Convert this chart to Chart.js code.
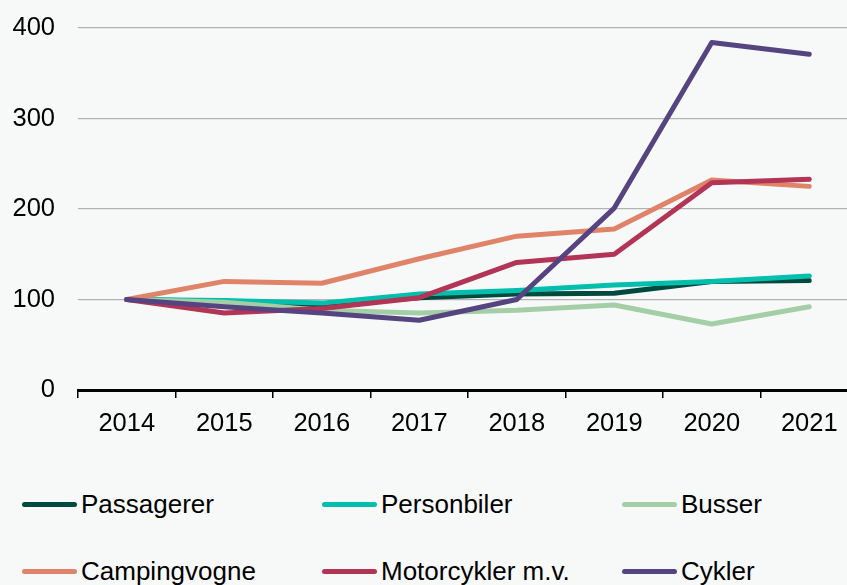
<!DOCTYPE html>
<html>
<head>
<meta charset="utf-8">
<script src="https://cdn.jsdelivr.net/npm/chart.js@4"></script>
<style>
  html, body { margin: 0; padding: 0; background: #f7f9f9; overflow: hidden; width: 847px; height: 585px; }
  #wrap { position: absolute; left: 0; top: 0; width: 858px; height: 460px; }
  #legend { position: absolute; left: 0; top: 470px; width: 847px; height: 115px; font-family: "Liberation Sans", Arial, sans-serif; font-size: 26px; color: #000; }
  .item { position: absolute; display: flex; align-items: center; white-space: nowrap; }
  .swatch { width: 55px; height: 5px; border-radius: 3px; margin-right: 4px; }
</style>
</head>
<body>
<div id="wrap"><canvas id="c" width="858" height="460"></canvas></div>
<div id="legend"></div>
<script>
const years = ['2014', '2015', '2016', '2017', '2018', '2019', '2020', '2021'];
const seriesNames = ['Passagerer', 'Personbiler', 'Busser', 'Campingvogne', 'Motorcykler m.v.', 'Cykler'];
const passagerer   = [100, 98, 94, 102, 106, 107, 120, 121];
const personbiler  = [100, 99, 96, 106, 110, 116, 120, 126];
const busser       = [100, 97, 88, 85, 88, 94, 73, 92];
const campingvogne = [100, 120, 118, 145, 170, 178, 232, 225];
const motorcykler  = [100, 85, 90, 102, 141, 150, 229, 233];
const cykler       = [100, 92, 85, 77, 100, 201, 384, 371];
const yTicks = [0, 100, 200, 300, 400];

const colors = ['#004a40', '#00bfad', '#a4cfa6', '#df8469', '#b23556', '#554480'];
const values = [passagerer, personbiler, busser, campingvogne, motorcykler, cykler];

const datasets = seriesNames.map((name, i) => ({
  label: name,
  data: values[i],
  borderColor: colors[i],
  backgroundColor: colors[i],
  borderWidth: 5,
  pointRadius: 0,
  tension: 0,
  borderCapStyle: 'round',
  borderJoinStyle: 'round',
  fill: false,
  order: seriesNames.length - 1 - i
}));

const FONT = { family: '"Liberation Sans", Arial, sans-serif', size: 25.5 };

new Chart(document.getElementById('c'), {
  type: 'line',
  data: { labels: years, datasets },
  options: {
    responsive: false,
    animation: false,
    layout: { padding: { top: 28, right: 0, left: 0, bottom: 0 } },
    plugins: { legend: { display: false }, tooltip: { enabled: false } },
    scales: {
      x: {
        type: 'category',
        offset: true,
        grid: { display: true, drawOnChartArea: false, drawTicks: true, tickLength: 8, color: '#000', lineWidth: 1.5, offset: true },
        border: { display: true, color: '#000', width: 3 },
        ticks: { color: '#000', font: FONT, padding: 11, maxRotation: 0, autoSkip: false },
        afterFit: s => { s.height = 70; s.paddingLeft = 0; s.paddingRight = 0; }
      },
      y: {
        min: 0, max: 400,
        afterBuildTicks: s => { s.ticks = yTicks.map(v => ({ value: v })); },
        grid: { color: '#b3b3b3', lineWidth: 1.3, drawTicks: false },
        border: { display: false },
        ticks: { color: '#000', font: FONT, padding: 23 },
        afterFit: s => { s.width = 78; s.paddingTop = 0; s.paddingBottom = 0; }
      }
    }
  }
});

// HTML legend (3 columns, 2 rows)
const legend = document.getElementById('legend');
seriesNames.forEach((name, i) => {
  const col = i % 3, row = Math.floor(i / 3);
  const el = document.createElement('div');
  el.className = 'item';
  el.style.left = (22 + col * 300) + 'px';
  el.style.top = (row * 67 + 34 - 16) + 'px';
  el.style.height = '32px';
  const sw = document.createElement('div');
  sw.className = 'swatch';
  sw.style.background = colors[i];
  const tx = document.createElement('span');
  tx.textContent = name;
  el.appendChild(sw); el.appendChild(tx);
  legend.appendChild(el);
});
</script>
</body>
</html>
